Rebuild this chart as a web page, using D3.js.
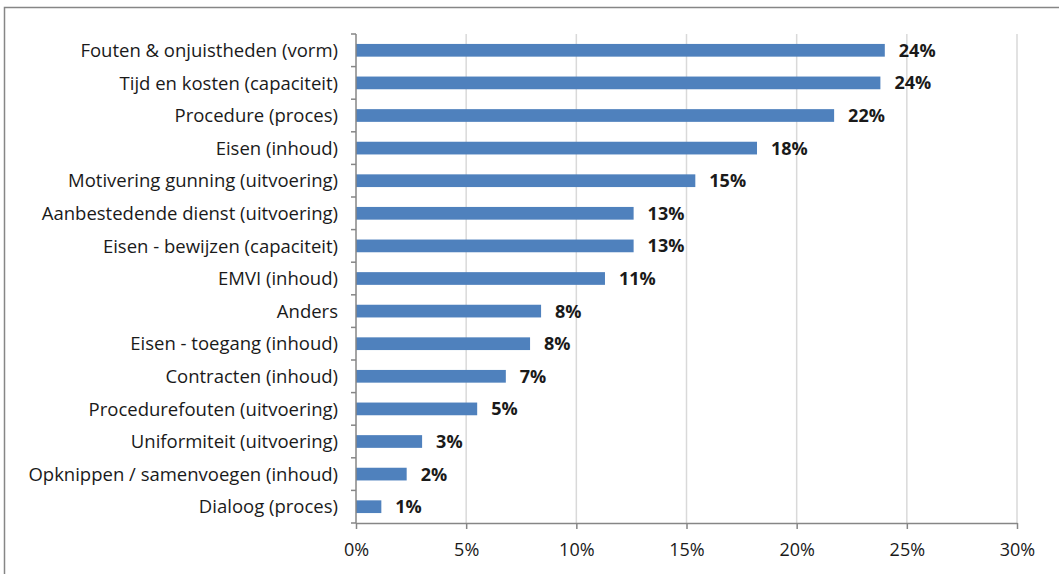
<!DOCTYPE html>
<html>
<head>
<meta charset="utf-8">
<script src="https://cdn.jsdelivr.net/npm/d3@7"></script>
<style>
  body { margin: 0; background: #fff; }
  svg { display: block; }
  .tick text { font-family: "Open Sans", Lato, sans-serif; }
</style>
</head>
<body>
<div id="chart"></div>
<script>
// categories top to bottom
var categories = [
	"Fouten & onjuistheden (vorm)",
	"Tijd en kosten (capaciteit)",
	"Procedure (proces)",
	"Eisen (inhoud)",
	"Motivering gunning (uitvoering)",
	"Aanbestedende dienst (uitvoering)",
	"Eisen - bewijzen (capaciteit)",
	"EMVI (inhoud)",
	"Anders",
	"Eisen - toegang (inhoud)",
	"Contracten (inhoud)",
	"Procedurefouten (uitvoering)",
	"Uniformiteit (uitvoering)",
	"Opknippen / samenvoegen (inhoud)",
	"Dialoog (proces)"
]
// percentages
var values = [24.0, 23.8, 21.7, 18.2, 15.4, 12.6, 12.6, 11.3, 8.4, 7.9, 6.8, 5.5, 3.0, 2.3, 1.15]
var valueLabels = ["24%", "24%", "22%", "18%", "15%", "13%", "13%", "11%", "8%", "8%", "7%", "5%", "3%", "2%", "1%"]
var xTicks = [0, 5, 10, 15, 20, 25, 30]

var width = 1059, height = 574
var margin = {top: 34, left: 356, right: 42, bottom: 51}
var font = "'Open Sans', Lato, sans-serif"

var svg = d3.select("#chart").append("svg")
	.attr("width", width)
	.attr("height", height)

// chart border (right and bottom fall outside the picture)
svg.append("rect")
	.attr("x", 4.5).attr("y", 7.5)
	.attr("width", width + 20).attr("height", height + 20)
	.attr("fill", "none")
	.attr("stroke", "#868686")
	.attr("stroke-width", 1.5)

var xScale = d3.scaleLinear()
	.domain([0, 30])
	.range([margin.left, width - margin.right])

var yScale = d3.scaleBand()
	.domain(categories)
	.range([margin.top, height - margin.bottom])
	.paddingInner(0.61)
	.paddingOuter(0.305)

var y0 = yScale.range()[0], y1 = yScale.range()[1]

// gridlines
svg.append("g").selectAll("line")
	.data(xTicks.slice(1))
	.enter().append("line")
	.attr("x1", d => xScale(d)).attr("x2", d => xScale(d))
	.attr("y1", y0).attr("y2", y1)
	.attr("stroke", "#d9d9d9")
	.attr("stroke-width", 1.5)

// bars
svg.append("g").selectAll("rect")
	.data(values)
	.enter().append("rect")
	.attr("x", xScale(0))
	.attr("y", (d, i) => yScale(categories[i]))
	.attr("width", d => xScale(d) - xScale(0))
	.attr("height", yScale.bandwidth())
	.attr("fill", "#4f81bd")

// value labels
svg.append("g").selectAll("text")
	.data(values)
	.enter().append("text")
	.attr("x", d => xScale(d) + 14)
	.attr("y", (d, i) => yScale(categories[i]) + yScale.bandwidth() / 2)
	.attr("dy", "0.36em")
	.attr("font-family", font)
	.attr("font-weight", "bold")
	.attr("font-size", 18)
	.attr("fill", "#1a1a1a")
	.text((d, i) => valueLabels[i])

// category labels
svg.append("g").selectAll("text")
	.data(categories)
	.enter().append("text")
	.attr("x", margin.left - 18)
	.attr("y", d => yScale(d) + yScale.bandwidth() / 2)
	.attr("dy", "0.36em")
	.attr("text-anchor", "end")
	.attr("font-family", font)
	.attr("font-size", 18.5)
	.attr("fill", "#1a1a1a")
	.text(d => d)

// left axis line with ticks on band edges
var step = yScale.step()
var yAxisG = svg.append("g")
yAxisG.append("line")
	.attr("x1", xScale(0)).attr("x2", xScale(0))
	.attr("y1", y0).attr("y2", y1)
	.attr("stroke", "#868686").attr("stroke-width", 1.5)
yAxisG.selectAll(".ytick")
	.data(d3.range(categories.length + 1))
	.enter().append("line")
	.attr("class", "ytick")
	.attr("x1", xScale(0) - 5).attr("x2", xScale(0))
	.attr("y1", i => y0 + i * step).attr("y2", i => y0 + i * step)
	.attr("stroke", "#868686").attr("stroke-width", 1.5)

// bottom axis
var xAxis = d3.axisBottom(xScale)
	.tickValues(xTicks)
	.tickFormat(d => d + "%")
	.tickSize(6)
	.tickSizeOuter(0)

var xAxisG = svg.append("g")
	.attr("transform", "translate(0," + y1 + ")")
	.call(xAxis)
xAxisG.select(".domain").attr("stroke", "#868686").attr("stroke-width", 1.5)
xAxisG.selectAll(".tick line").attr("stroke", "#868686").attr("stroke-width", 1.5)
xAxisG.selectAll(".tick text")
	.attr("y", 20)
	.attr("font-size", 18)
	.attr("fill", "#1a1a1a")
</script>
</body>
</html>
